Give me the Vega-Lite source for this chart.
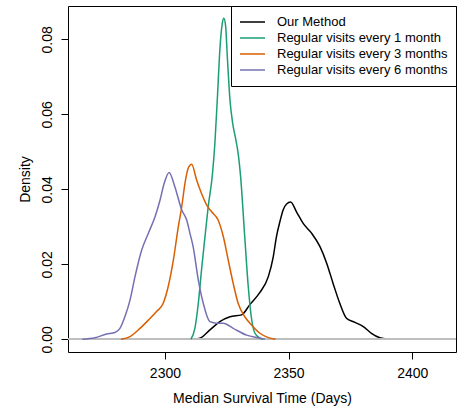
{
  "$schema": "https://vega.github.io/schema/vega-lite/v6.json",
  "width": 388,
  "height": 346,
  "autosize": {"type": "none"},
  "padding": {"left": 68, "top": 6, "right": 4, "bottom": 61},
  "background": "white",
  "config": {
    "view": {"stroke": "black", "strokeWidth": 1},
    "font": "Liberation Sans",
    "axis": {
      "grid": false,
      "domain": false,
      "tickColor": "black",
      "tickSize": 7,
      "tickWidth": 1,
      "labelFont": "Liberation Sans",
      "labelFontSize": 14,
      "labelColor": "black",
      "titleFont": "Liberation Sans",
      "titleFontSize": 14,
      "titleFontWeight": "normal",
      "titleColor": "black",
      "labelOverlap": false,
      "labelFlush": false
    }
  },
  "datasets": {
    "curves": [
      {"s": "Our Method", "x": 2310.8, "y": 0},
      {"s": "Our Method", "x": 2314.1, "y": 0.0003},
      {"s": "Our Method", "x": 2318.2, "y": 0.0025},
      {"s": "Our Method", "x": 2322.2, "y": 0.0047},
      {"s": "Our Method", "x": 2326.3, "y": 0.0060},
      {"s": "Our Method", "x": 2331.0, "y": 0.0065},
      {"s": "Our Method", "x": 2334.4, "y": 0.0093},
      {"s": "Our Method", "x": 2338.4, "y": 0.0125},
      {"s": "Our Method", "x": 2341.8, "y": 0.0167},
      {"s": "Our Method", "x": 2343.8, "y": 0.0220},
      {"s": "Our Method", "x": 2345.1, "y": 0.0274},
      {"s": "Our Method", "x": 2346.5, "y": 0.0314},
      {"s": "Our Method", "x": 2347.8, "y": 0.0345},
      {"s": "Our Method", "x": 2349.2, "y": 0.0361},
      {"s": "Our Method", "x": 2350.8, "y": 0.0366},
      {"s": "Our Method", "x": 2353.2, "y": 0.0340},
      {"s": "Our Method", "x": 2355.9, "y": 0.0309},
      {"s": "Our Method", "x": 2359.3, "y": 0.0283},
      {"s": "Our Method", "x": 2362.7, "y": 0.0247},
      {"s": "Our Method", "x": 2365.4, "y": 0.0203},
      {"s": "Our Method", "x": 2368.0, "y": 0.0149},
      {"s": "Our Method", "x": 2370.7, "y": 0.0096},
      {"s": "Our Method", "x": 2373.4, "y": 0.0056},
      {"s": "Our Method", "x": 2376.8, "y": 0.0045},
      {"s": "Our Method", "x": 2380.2, "y": 0.0034},
      {"s": "Our Method", "x": 2383.5, "y": 0.0016},
      {"s": "Our Method", "x": 2386.9, "y": 0.0004},
      {"s": "Our Method", "x": 2390.3, "y": 0},
      {"s": "Regular visits every 1 month", "x": 2310.5, "y": 0},
      {"s": "Regular visits every 1 month", "x": 2312.1, "y": 0.0029},
      {"s": "Regular visits every 1 month", "x": 2313.5, "y": 0.0096},
      {"s": "Regular visits every 1 month", "x": 2314.8, "y": 0.0185},
      {"s": "Regular visits every 1 month", "x": 2316.2, "y": 0.0274},
      {"s": "Regular visits every 1 month", "x": 2317.5, "y": 0.0354},
      {"s": "Regular visits every 1 month", "x": 2319.2, "y": 0.0440},
      {"s": "Regular visits every 1 month", "x": 2320.2, "y": 0.0523},
      {"s": "Regular visits every 1 month", "x": 2321.3, "y": 0.0656},
      {"s": "Regular visits every 1 month", "x": 2322.2, "y": 0.0771},
      {"s": "Regular visits every 1 month", "x": 2323.2, "y": 0.0843},
      {"s": "Regular visits every 1 month", "x": 2323.8, "y": 0.0856},
      {"s": "Regular visits every 1 month", "x": 2324.5, "y": 0.0838},
      {"s": "Regular visits every 1 month", "x": 2325.3, "y": 0.0745},
      {"s": "Regular visits every 1 month", "x": 2326.3, "y": 0.0638},
      {"s": "Regular visits every 1 month", "x": 2327.4, "y": 0.0576},
      {"s": "Regular visits every 1 month", "x": 2328.7, "y": 0.0531},
      {"s": "Regular visits every 1 month", "x": 2329.6, "y": 0.0496},
      {"s": "Regular visits every 1 month", "x": 2330.6, "y": 0.0434},
      {"s": "Regular visits every 1 month", "x": 2332.3, "y": 0.0270},
      {"s": "Regular visits every 1 month", "x": 2333.7, "y": 0.0140},
      {"s": "Regular visits every 1 month", "x": 2335.0, "y": 0.0056},
      {"s": "Regular visits every 1 month", "x": 2336.4, "y": 0.0016},
      {"s": "Regular visits every 1 month", "x": 2338.4, "y": 0.0003},
      {"s": "Regular visits every 1 month", "x": 2339.6, "y": 0},
      {"s": "Regular visits every 3 months", "x": 2282.2, "y": 0},
      {"s": "Regular visits every 3 months", "x": 2285.9, "y": 0.0007},
      {"s": "Regular visits every 3 months", "x": 2289.9, "y": 0.0029},
      {"s": "Regular visits every 3 months", "x": 2293.3, "y": 0.0051},
      {"s": "Regular visits every 3 months", "x": 2296.6, "y": 0.0074},
      {"s": "Regular visits every 3 months", "x": 2299.3, "y": 0.0096},
      {"s": "Regular visits every 3 months", "x": 2301.3, "y": 0.0140},
      {"s": "Regular visits every 3 months", "x": 2303.4, "y": 0.0211},
      {"s": "Regular visits every 3 months", "x": 2305.4, "y": 0.0300},
      {"s": "Regular visits every 3 months", "x": 2306.8, "y": 0.0354},
      {"s": "Regular visits every 3 months", "x": 2308.1, "y": 0.0416},
      {"s": "Regular visits every 3 months", "x": 2309.4, "y": 0.0456},
      {"s": "Regular visits every 3 months", "x": 2310.8, "y": 0.0467},
      {"s": "Regular visits every 3 months", "x": 2312.8, "y": 0.0425},
      {"s": "Regular visits every 3 months", "x": 2314.8, "y": 0.0389},
      {"s": "Regular visits every 3 months", "x": 2316.9, "y": 0.0358},
      {"s": "Regular visits every 3 months", "x": 2318.9, "y": 0.0340},
      {"s": "Regular visits every 3 months", "x": 2321.5, "y": 0.0318},
      {"s": "Regular visits every 3 months", "x": 2323.6, "y": 0.0274},
      {"s": "Regular visits every 3 months", "x": 2325.6, "y": 0.0211},
      {"s": "Regular visits every 3 months", "x": 2327.6, "y": 0.0149},
      {"s": "Regular visits every 3 months", "x": 2329.6, "y": 0.0096},
      {"s": "Regular visits every 3 months", "x": 2332.3, "y": 0.0060},
      {"s": "Regular visits every 3 months", "x": 2335.0, "y": 0.0038},
      {"s": "Regular visits every 3 months", "x": 2338.4, "y": 0.0016},
      {"s": "Regular visits every 3 months", "x": 2341.6, "y": 0.0005},
      {"s": "Regular visits every 3 months", "x": 2344.7, "y": 0},
      {"s": "Regular visits every 6 months", "x": 2266.6, "y": 0},
      {"s": "Regular visits every 6 months", "x": 2271.7, "y": 0.0004},
      {"s": "Regular visits every 6 months", "x": 2276.4, "y": 0.0014},
      {"s": "Regular visits every 6 months", "x": 2279.8, "y": 0.0018},
      {"s": "Regular visits every 6 months", "x": 2281.8, "y": 0.0029},
      {"s": "Regular visits every 6 months", "x": 2283.8, "y": 0.0060},
      {"s": "Regular visits every 6 months", "x": 2285.9, "y": 0.0105},
      {"s": "Regular visits every 6 months", "x": 2287.9, "y": 0.0167},
      {"s": "Regular visits every 6 months", "x": 2290.6, "y": 0.0238},
      {"s": "Regular visits every 6 months", "x": 2293.3, "y": 0.0283},
      {"s": "Regular visits every 6 months", "x": 2296.0, "y": 0.0327},
      {"s": "Regular visits every 6 months", "x": 2298.0, "y": 0.0371},
      {"s": "Regular visits every 6 months", "x": 2299.7, "y": 0.0416},
      {"s": "Regular visits every 6 months", "x": 2301.7, "y": 0.0445},
      {"s": "Regular visits every 6 months", "x": 2304.0, "y": 0.0407},
      {"s": "Regular visits every 6 months", "x": 2306.8, "y": 0.0345},
      {"s": "Regular visits every 6 months", "x": 2308.8, "y": 0.0318},
      {"s": "Regular visits every 6 months", "x": 2310.1, "y": 0.0283},
      {"s": "Regular visits every 6 months", "x": 2311.4, "y": 0.0247},
      {"s": "Regular visits every 6 months", "x": 2313.5, "y": 0.0158},
      {"s": "Regular visits every 6 months", "x": 2315.5, "y": 0.0096},
      {"s": "Regular visits every 6 months", "x": 2318.2, "y": 0.0047},
      {"s": "Regular visits every 6 months", "x": 2320.9, "y": 0.0043},
      {"s": "Regular visits every 6 months", "x": 2323.6, "y": 0.0043},
      {"s": "Regular visits every 6 months", "x": 2327.6, "y": 0.0029},
      {"s": "Regular visits every 6 months", "x": 2333.0, "y": 0.0011},
      {"s": "Regular visits every 6 months", "x": 2338.4, "y": 0.0003},
      {"s": "Regular visits every 6 months", "x": 2340.4, "y": 0}
    ]
  },
  "data": {"name": "curves"},
  "layer": [
    {
      "transform": [{"filter": "datum.s === 'Our Method'"}],
      "mark": {"type": "line", "strokeWidth": 1.5, "interpolate": "monotone"},
      "encoding": {
        "x": {"field": "x", "type": "quantitative"},
        "y": {"field": "y", "type": "quantitative"},
        "color": {"field": "s", "type": "nominal"}
      }
    },
    {
      "mark": {"type": "rule", "color": "#bebebe", "strokeWidth": 1},
      "encoding": {"y": {"datum": 0}}
    },
    {
      "transform": [{"filter": "datum.s !== 'Our Method'"}],
      "mark": {"type": "line", "strokeWidth": 1.5, "interpolate": "monotone"},
      "encoding": {
        "x": {
          "field": "x",
          "type": "quantitative",
          "scale": {"domain": [2260.8, 2417.7], "nice": false, "zero": false},
          "axis": {
            "values": [2300, 2350, 2400],
            "format": "d",
            "title": "Median Survival Time (Days)",
            "labelPadding": 7,
            "titlePadding": 11
          }
        },
        "y": {
          "field": "y",
          "type": "quantitative",
          "scale": {"domain": [-0.0034, 0.0889], "nice": false, "zero": false},
          "axis": {
            "values": [0, 0.02, 0.04, 0.06, 0.08],
            "format": ".2f",
            "title": "Density",
            "labelAngle": -90,
            "labelAlign": "center",
            "labelBaseline": "bottom",
            "labelPadding": 7,
            "titlePadding": 8
          }
        },
        "color": {
          "field": "s",
          "type": "nominal",
          "scale": {
            "domain": ["Our Method", "Regular visits every 1 month", "Regular visits every 3 months", "Regular visits every 6 months"],
            "range": ["#000000", "#1B9E77", "#D95F02", "#7570B3"]
          },
          "legend": {
            "orient": "top-right",
            "offset": 0,
            "title": null,
            "symbolType": "stroke",
            "symbolSize": 625,
            "symbolStrokeWidth": 1.5,
            "labelFont": "Liberation Sans",
            "labelFontSize": 13,
            "labelColor": "black",
            "labelLimit": 0,
            "labelOffset": 11,
            "clipHeight": 16,
            "rowPadding": 0,
            "strokeColor": "black",
            "fillColor": "white",
            "padding": 8
          }
        }
      }
    }
  ]
}
